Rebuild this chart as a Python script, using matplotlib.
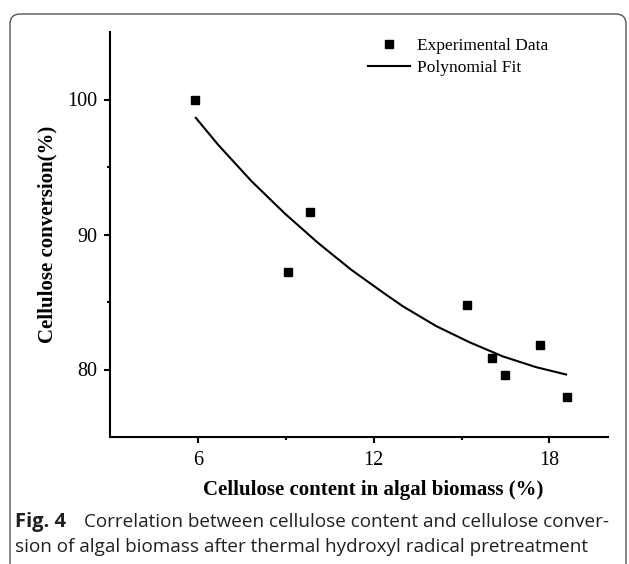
import matplotlib
matplotlib.use("Agg")
from matplotlib import pyplot as plt
from matplotlib.patches import FancyBboxPatch

# experimental points
content = [5.9, 9.09, 9.84, 15.19, 16.05, 16.5, 17.69, 18.6]
conversion = [100.0, 87.2, 91.63, 84.79, 80.84, 79.58, 81.78, 77.98]

# polynomial fit curve
fit_x = [5.93, 6.69, 7.83, 8.97, 10.10, 11.24, 12.38, 13.0, 14.14, 15.27, 16.41, 17.55, 18.57]
fit_y = [98.64, 96.65, 93.95, 91.55, 89.38, 87.38, 85.61, 84.68, 83.21, 82.02, 80.97, 80.17, 79.63]

X_TICKS = [6, 12, 18]
Y_TICKS = [80, 90, 100]
SERIF = "Liberation Serif"

W, H = 629, 564
fig = plt.figure(figsize=(W / 100, H / 100), dpi=100)

# rounded caption frame
frame = FancyBboxPatch((10, -60), 616, 550 + 60, boxstyle="round,pad=0,rounding_size=10",
                       transform=None, facecolor="none", edgecolor="#555555", lw=1.0, clip_on=False)
fig.patches.append(frame)

ax = fig.add_axes([110 / W, 1 - 437 / H, 498 / W, 405 / H])
ax.plot(fit_x, fit_y, color="black", lw=1.5, label="Polynomial Fit")
ax.plot(content, conversion, "s", color="black", ms=5.5, ls="none", label="Experimental Data")

ax.set_xlim(3, 20)
ax.set_ylim(75, 105)
ax.set_xticks(X_TICKS)
ax.set_xticks([9, 15], minor=True)
ax.set_yticks(Y_TICKS)
ax.set_yticks([85, 95], minor=True)
for s in ["top", "right"]:
    ax.spines[s].set_visible(False)
for s in ["left", "bottom"]:
    ax.spines[s].set_linewidth(1.5)
ax.tick_params(which="major", direction="out", length=4.5, width=1.5, labelsize=14.5)
ax.tick_params(which="minor", direction="out", length=2.5, width=1.5)
ax.tick_params(axis="x", pad=5.5)
ax.tick_params(axis="y", pad=4.5)
for lab in ax.get_xticklabels() + ax.get_yticklabels():
    lab.set_fontfamily(SERIF)

ax.set_xlabel("Cellulose content in algal biomass (%)", fontfamily=SERIF, fontweight="bold", fontsize=15)
ax.set_ylabel("Cellulose conversion(%)", fontfamily=SERIF, fontweight="bold", fontsize=15)
ax.xaxis.set_label_coords(0.528, -(490 - 437) / 405)
ax.xaxis.label.set_va("center")
ax.yaxis.set_label_coords(-0.106, 0.5)

handles, labels = ax.get_legend_handles_labels()
leg = ax.legend(handles[::-1], labels[::-1], loc="upper left",
                bbox_to_anchor=(368 / W, 1 - 38 / H), bbox_transform=fig.transFigure,
                frameon=False, borderpad=0, borderaxespad=0, handlelength=2.4,
                handletextpad=0.45, labelspacing=0.35, prop={"family": SERIF, "size": 12.5})

# caption
cap_color = "#231f20"
fig.text(15 / W, 1 - 522 / H, "Fig. 4", fontfamily="Open Sans", fontweight="bold",
         fontsize=14.5, color=cap_color, va="center", ha="left")
fig.text(84 / W, 1 - 522 / H, "Correlation between cellulose content and cellulose conver-",
         fontfamily="Open Sans", fontsize=13.6, color=cap_color, va="center", ha="left")
fig.text(15 / W, 1 - 547 / H, "sion of algal biomass after thermal hydroxyl radical pretreatment",
         fontfamily="Open Sans", fontsize=13.6, color=cap_color, va="center", ha="left")

fig.savefig("out.png", dpi=100)
